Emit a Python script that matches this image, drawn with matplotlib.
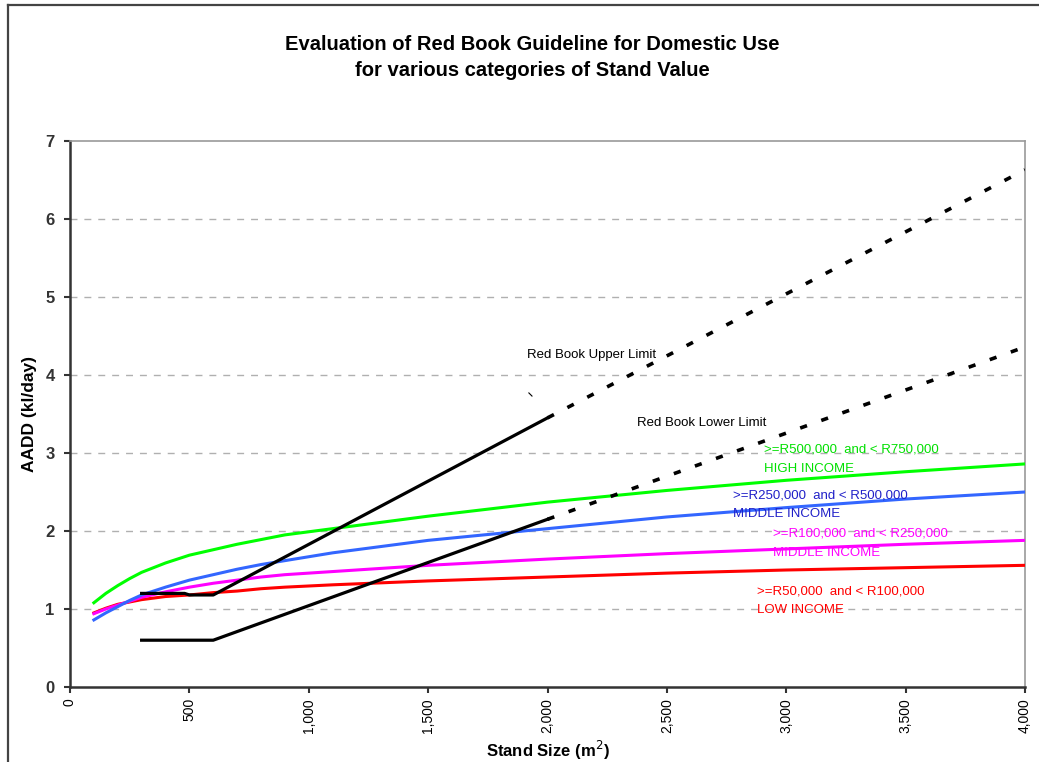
import matplotlib.pyplot as plt
from matplotlib.lines import Line2D

narrow = ['Liberation Sans Narrow', 'Liberation Sans', 'DejaVu Sans']
plt.rcParams['font.family'] = narrow

# stand-value curves, AADD (kl/day) against stand size (m2)
stand_size = [100, 150, 200, 250, 300, 400, 500, 600, 700, 800, 900, 1100, 1500,
              2000, 2500, 3000, 3500, 4000]
high_income = [1.08, 1.20, 1.30, 1.39, 1.47, 1.59, 1.69, 1.76, 1.83, 1.89, 1.95, 2.03,
               2.19, 2.37, 2.52, 2.65, 2.76, 2.86]
middle_upper = [0.86, 0.95, 1.03, 1.11, 1.18, 1.28, 1.37, 1.44, 1.51, 1.57, 1.62, 1.72,
                1.88, 2.03, 2.18, 2.30, 2.41, 2.50]
middle_lower = [0.94, 1.00, 1.05, 1.10, 1.15, 1.22, 1.28, 1.33, 1.37, 1.41, 1.44, 1.48,
                1.56, 1.64, 1.71, 1.77, 1.83, 1.88]
low_income = [0.95, 1.01, 1.06, 1.09, 1.12, 1.16, 1.18, 1.21, 1.23, 1.26, 1.28, 1.31,
              1.36, 1.41, 1.46, 1.50, 1.53, 1.56]

# Red Book guideline limits (solid within range, dashed extension beyond)
upper_x = [300, 480, 500, 600, 2000]
upper_y = [1.20, 1.20, 1.18, 1.18, 3.45]
upper_ext_x = [2000, 4000]
upper_ext_y = [3.45, 6.63]
lower_x = [300, 600, 2000]
lower_y = [0.60, 0.60, 2.15]
lower_ext_x = [2000, 4000]
lower_ext_y = [2.15, 4.36]

x_ticks = [0, 500, 1000, 1500, 2000, 2500, 3000, 3500, 4000]
x_labels = ['0', '500', '1,000', '1,500', '2,000', '2,500', '3,000', '3,500', '4,000']
y_ticks = [0, 1, 2, 3, 4, 5, 6, 7]

fig = plt.figure(figsize=(10.39, 7.62), dpi=100)
ax = fig.add_axes([70 / 1039, 1 - 687 / 762, 955 / 1039, 546 / 762])

# outer chart frame
fig.add_artist(Line2D([8 / 1039, 1.0], [1 - 5 / 762] * 2, transform=fig.transFigure,
                      color='#444444', lw=1.6))
fig.add_artist(Line2D([8 / 1039] * 2, [0, 1 - 5 / 762], transform=fig.transFigure,
                      color='#444444', lw=1.6))

for y in y_ticks[1:-1]:
    ax.axhline(y, color='#b0b0b0', lw=1.0, ls=(0, (5, 5)), zorder=1)

ax.plot(stand_size, low_income, color='#ff0000', lw=2.2, zorder=3)
ax.plot(stand_size, middle_lower, color='#ff00ff', lw=2.2, zorder=3)
ax.plot(stand_size, middle_upper, color='#3366ff', lw=2.2, zorder=3)
ax.plot(stand_size, high_income, color='#00ff00', lw=2.2, zorder=3)

ax.plot(upper_x, upper_y, color='black', lw=2.3, zorder=4)
ax.plot(lower_x, lower_y, color='black', lw=2.3, zorder=4)
ax.plot(upper_ext_x, upper_ext_y, color='black', lw=2.6, ls=(0, (2, 4.2)), zorder=4)
ax.plot(lower_ext_x, lower_ext_y, color='black', lw=2.6, ls=(0, (2, 4.2)), zorder=4)
ax.plot([1922, 1935], [3.77, 3.73], color='black', lw=0.8, zorder=4)

lab = dict(fontsize=9.5, ha='left', va='center', zorder=5)
ax.text(1914, 4.26, 'Red Book Upper Limit', color='black', **lab)
ax.text(2375, 3.38, 'Red Book Lower Limit', color='black', **lab)
ax.text(2907, 3.05, '>=R500,000  and < R750,000', color='#00e000', **lab)
ax.text(2907, 2.79, 'HIGH INCOME', color='#00e000', **lab)
ax.text(2777, 2.45, '>=R250,000  and < R500,000', color='#2020c8', **lab)
ax.text(2777, 2.22, 'MIDDLE INCOME', color='#2020c8', **lab)
ax.text(2945, 1.97, '>=R100,000  and < R250,000', color='#ff00ff', **lab)
ax.text(2945, 1.72, 'MIDDLE INCOME', color='#ff00ff', **lab)
ax.text(2877, 1.22, '>=R50,000  and < R100,000', color='#ff0000', **lab)
ax.text(2877, 0.99, 'LOW INCOME', color='#ff0000', **lab)

ax.set_xlim(0, 4000)
ax.set_ylim(0, 7)
ax.set_xticks(x_ticks)
ax.set_xticklabels(x_labels, rotation=90, fontsize=10)
ax.set_yticks(y_ticks)
ax.set_yticklabels([str(v) for v in y_ticks], fontsize=12, fontweight='bold',
                   family=['Liberation Sans', 'DejaVu Sans'], color='#333333')
ax.tick_params(axis='both', direction='out', length=4.5, width=1.5, color='#333333')
ax.tick_params(axis='y', pad=6.5)

for side in ['left', 'bottom']:
    ax.spines[side].set_color('#333333')
    ax.spines[side].set_linewidth(1.8)
for side in ['top', 'right']:
    ax.spines[side].set_color('#999999')
    ax.spines[side].set_linewidth(1.2)

ax.set_ylabel('AADD (kl/day)', fontsize=12.5, fontweight='bold',
              family=['Liberation Sans', 'DejaVu Sans'])
ax.yaxis.set_label_coords(-0.035, 0.5)
ax.set_xlabel('Stand Size (m$^2$)', fontsize=12, fontweight='bold',
              family=['Liberation Sans', 'DejaVu Sans'], labelpad=4)

fig.text(0.512, 1 - 45 / 762, 'Evaluation of Red Book Guideline for Domestic Use',
         ha='center', va='center', fontsize=14.5, fontweight='bold')
fig.text(0.512, 1 - 71 / 762, 'for various categories of Stand Value',
         ha='center', va='center', fontsize=14.5, fontweight='bold')

fig.savefig('out.png', dpi=100)
